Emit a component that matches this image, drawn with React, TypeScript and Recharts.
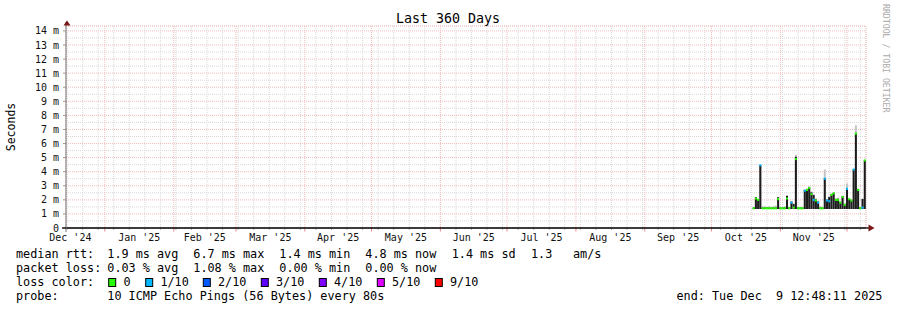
import React from "react"
import { ComposedChart, Bar, Cell, XAxis, YAxis, ReferenceLine, CartesianGrid } from "recharts"

const DAY = 86400000
const endTime = Date.UTC(2025, 11, 9, 12, 48, 11)
const spanDays = 360
const startTime = endTime - spanDays * DAY
const toDay = (iso: string) => (Date.parse(iso + "T00:00:00Z") - startTime) / DAY

// one bin per day, counted from the left edge of the graph
const bins = [
    309, 310, 311, 312, 313, 314, 315, 316, 317, 318, 319, 320, 321, 322, 323, 324, 325,
    326, 327, 328, 329, 330, 331, 332, 333, 334, 335, 336, 337, 338, 339, 340, 341, 342,
    343, 344, 345, 346, 347, 348, 349, 350, 351, 352, 353, 354, 355, 356, 357, 358, 359,
]
const medianMs = [
    1.4, 2.1, 2.0, 4.45, 1.4, 1.4, 1.4, 1.4, 1.4, 1.4, 1.4, 2.05, 1.4, 1.4, 1.4, 2.1, 1.4,
    1.8, 1.45, 4.9, 1.4, 1.4, 1.4, 2.65, 2.7, 2.85, 2.4, 2.0, 1.95, 1.8, 1.4, 1.4, 3.5, 1.95,
    1.9, 2.35, 2.46, 2.0, 2.0, 1.8, 2.2, 1.65, 2.78, 2.05, 1.95, 4.15, 6.7, 2.7, 1.4, 1.45, 4.8,
]
const smokeHiMs = [
    1.45, 2.2, 2.0, 4.47, 1.45, 1.45, 1.45, 1.45, 1.45, 1.45, 1.45, 2.18, 1.45, 1.45, 1.45, 2.27, 1.45,
    1.87, 1.7, 5.06, 1.45, 1.45, 1.45, 2.7, 2.76, 2.88, 2.53, 2.34, 2.03, 1.87, 1.45, 1.45, 3.52, 2.0,
    2.2, 2.4, 2.5, 2.06, 2.08, 1.85, 2.27, 1.7, 2.8, 2.06, 1.99, 4.16, 6.76, 2.74, 1.45, 2.06, 4.82,
]
const smokeMaxMs = [
    1.45, 2.2, 2.05, 4.47, 1.55, 1.55, 1.5, 1.55, 1.5, 1.55, 1.6, 2.2, 1.5, 1.5, 1.55, 2.35, 1.5,
    1.9, 1.75, 5.2, 1.5, 1.5, 1.5, 2.75, 2.8, 2.95, 2.6, 2.4, 2.1, 1.95, 1.55, 1.5, 4.16, 2.05,
    2.25, 2.45, 2.55, 2.1, 2.15, 1.9, 2.3, 1.75, 3.17, 2.1, 2.05, 4.2, 7.3, 2.8, 1.5, 2.1, 4.85,
]
const lostPings = [
    0, 0, 0, 1, 0, 0, 0, 0, 0, 0, 0, 0, 0, 0, 0, 0, 0,
    1, 0, 0, 0, 0, 0, 1, 0, 0, 0, 1, 0, 1, 0, 0, 1, 1,
    1, 0, 0, 0, 0, 0, 0, 0, 1, 0, 0, 1, 0, 0, 0, 1, 0,
]
const smokeLoMs = 1.35

const monthBounds = [
    "2024-12-01", "2025-01-01", "2025-02-01", "2025-03-01", "2025-04-01", "2025-05-01", "2025-06-01",
    "2025-07-01", "2025-08-01", "2025-09-01", "2025-10-01", "2025-11-01", "2025-12-01",
]
const monthLabels = [
    "Dec '24", "Jan '25", "Feb '25", "Mar '25", "Apr '25", "May '25",
    "Jun '25", "Jul '25", "Aug '25", "Sep '25", "Oct '25", "Nov '25",
]
const firstSunday = "2024-12-15"

const yTicks = [0, 1, 2, 3, 4, 5, 6, 7, 8, 9, 10, 11, 12, 13, 14]
const yMinor = [0.5, 1.5, 2.5, 3.5, 4.5, 5.5, 6.5, 7.5, 8.5, 9.5, 10.5, 11.5, 12.5, 13.5]

const lossColors = ["#26ff00", "#00b8ff", "#0059ff", "#5e00ff", "#7e00ff", "#dd00ff", "#ff0000"]
const lossLabels = ["0", "1/10", "2/10", "3/10", "4/10", "5/10", "9/10"]
const lossBoxX = [108.7, 145.7, 203.3, 261.3, 319.3, 377.3, 435.3]

const rttItems = ["1.9 ms avg", "6.7 ms max", "1.4 ms min", "4.8 ms now", "1.4 ms sd", "1.3", "am/s"]
const rttX = [107.3, 193.3, 279.3, 365.3, 451.7, 531, 573]
const lossItems = ["0.03 % avg", "1.08 % max", "0.00 % min", "0.00 % now"]
const lossX = [107.3, 193.3, 279.3, 365.3]

const mono = "'DejaVu Sans Mono', monospace"
const Y_MAX = 14.35

const rows = bins.map((b, i) => ({
    day: b + 0.5,
    med: medianMs[i],
    hi: smokeHiMs[i],
    max: smokeMaxMs[i],
    loss: lostPings[i],
}))

const monthDays = monthBounds.map(toDay)
const labelTicks = monthDays.slice(0, -1).map((d, i) => (d + monthDays[i + 1]) / 2)
const monthGrid = monthDays.filter((d) => d > 0 && d < spanDays)
const weekGrid: number[] = []
for (let d = toDay(firstSunday); d < spanDays; d += 7) weekGrid.push(d)

const labelFor = (v: number) => {
    const i = labelTicks.findIndex((t) => Math.abs(t - v) < 0.01)
    return i >= 0 ? monthLabels[i] : ""
}

export default function App() {
    return (
        <div style={{ position: "absolute", left: 0, top: 0, width: 897, height: 310, background: "#fff" }}>
            <ComposedChart
                width={897}
                height={310}
                data={rows}
                margin={{ top: 26, right: 31, bottom: 0, left: 0 }}
            >
                <XAxis
                    xAxisId="t"
                    type="number"
                    dataKey="day"
                    domain={[0, spanDays]}
                    allowDataOverflow
                    ticks={labelTicks}
                    interval={0}
                    tickFormatter={labelFor}
                    height={82}
                    tickLine={false}
                    tickSize={4}
                    tickMargin={2}
                    axisLine={{ stroke: "#000", strokeWidth: 1.3 }}
                    tick={{ fontSize: 10, fontFamily: mono, fill: "#111" }}
                />
                {/* hidden axes: grid positions and overlapping bar layers */}
                <XAxis xAxisId="week" type="number" dataKey="day" domain={[0, spanDays]} allowDataOverflow ticks={weekGrid} interval={0} hide height={0} />
                <XAxis xAxisId="month" type="number" dataKey="day" domain={[0, spanDays]} allowDataOverflow ticks={monthGrid} interval={0} hide height={0} />
                <XAxis xAxisId="max" type="number" dataKey="day" domain={[0, spanDays]} allowDataOverflow hide height={0} />
                <XAxis xAxisId="smoke" type="number" dataKey="day" domain={[0, spanDays]} allowDataOverflow hide height={0} />
                <YAxis yAxisId="half" type="number" domain={[0, Y_MAX]} allowDataOverflow ticks={yMinor} interval={0} hide width={0} />
                <YAxis
                    type="number"
                    domain={[0, Y_MAX]}
                    allowDataOverflow
                    ticks={yTicks}
                    interval={0}
                    width={66}
                    tickSize={3}
                    tickMargin={4}
                    tickFormatter={(v: number) => (v === 0 ? "0" : `${v} m`)}
                    axisLine={{ stroke: "#777" }}
                    tickLine={{ stroke: "#999" }}
                    tick={{ fontSize: 10, fontFamily: mono, fill: "#111" }}
                />

                <CartesianGrid xAxisId="week" yAxisId="half" stroke="#d8d8d8" strokeDasharray="1 1" />
                <CartesianGrid xAxisId="month" yAxisId={0} stroke="#f4bcbc" strokeDasharray="1 1" />

                {weekGrid.map((d) => (
                    <ReferenceLine
                        key={"tw" + d}
                        xAxisId="t"
                        segment={[{ x: d, y: 0 }, { x: d, y: -0.15 }]}
                        ifOverflow="visible"
                        stroke="#bbb"
                    />
                ))}
                {monthGrid.map((d) => (
                    <ReferenceLine
                        key={"tM" + d}
                        xAxisId="t"
                        segment={[{ x: d, y: 0 }, { x: d, y: -0.25 }]}
                        ifOverflow="visible"
                        stroke="#e88"
                    />
                ))}

                <Bar
                    xAxisId="max"
                    dataKey={(r: any) => [smokeLoMs, r.max]}
                    fill="#c4c4c4"
                    barSize={2}
                    isAnimationActive={false}
                />
                <Bar
                    xAxisId="smoke"
                    dataKey={(r: any) => [smokeLoMs, r.hi]}
                    fill="#1c1c1c"
                    barSize={2}
                    isAnimationActive={false}
                />
                <Bar
                    xAxisId="t"
                    dataKey={(r: any) => [r.med - 0.075, r.med + 0.075]}
                    barSize={2.4}
                    isAnimationActive={false}
                >
                    {rows.map((r, i) => (
                        <Cell key={i} fill={lossColors[r.loss]} />
                    ))}
                </Bar>
            </ComposedChart>

            <svg
                width={897}
                height={310}
                style={{ position: "absolute", left: 0, top: 0, pointerEvents: "none" }}
                fontFamily={mono}
            >
                <text x={448} y={23} textAnchor="middle" fontSize={13.3} fill="#000">
                    Last 360 Days
                </text>
                <text transform="translate(15.3,127) rotate(-90)" textAnchor="middle" fontSize={11.5} fill="#000">
                    Seconds
                </text>
                <text transform="translate(883,4) rotate(90)" fontSize={8.2} fill="#aaa">
                    RRDTOOL / TOBI OETIKER
                </text>

                {/* axis stubs and arrows */}
                <line x1={66} y1={22} x2={66} y2={26} stroke="#777" />
                <line x1={66} y1={228} x2={66} y2={232} stroke="#777" />
                <polygon points="67,20.5 63.5,25.5 70.5,25.5" fill="#7a1616" />
                <line x1={62} y1={228} x2={66} y2={228} stroke="#000" strokeWidth={1.3} />
                <line x1={866} y1={228} x2={869} y2={228} stroke="#000" strokeWidth={1.3} />
                <polygon points="874.5,228 868.5,224.5 868.5,231.5" fill="#7a1616" />

                <g fontSize={11.8} fill="#000" style={{ whiteSpace: "pre" }}>
                    <text x={16} y={258.3}>median rtt:</text>
                    {rttItems.map((s, i) => (
                        <text key={s} x={rttX[i]} y={258.3}>{s}</text>
                    ))}
                    <text x={16} y={272.3}>packet loss:</text>
                    {lossItems.map((s, i) => (
                        <text key={s} x={lossX[i]} y={272.3}>{s}</text>
                    ))}
                    <text x={16} y={286.3}>loss color:</text>
                    {lossLabels.map((s, i) => (
                        <g key={s}>
                            <rect x={lossBoxX[i]} y={278.5} width={7} height={8} fill={lossColors[i]} stroke="#000" strokeWidth={1} />
                            <text x={lossBoxX[i] + 14.7} y={286.3}>{s}</text>
                        </g>
                    ))}
                    <text x={16} y={300.3}>probe:</text>
                    <text x={107.3} y={300.3}>10 ICMP Echo Pings (56 Bytes) every 80s</text>
                    <text x={676.5} y={300.3} xmlSpace="preserve" style={{ whiteSpace: "pre" }}>
                        {"end: Tue Dec  9 12:48:11 2025"}
                    </text>
                </g>
            </svg>
        </div>
    )
}
